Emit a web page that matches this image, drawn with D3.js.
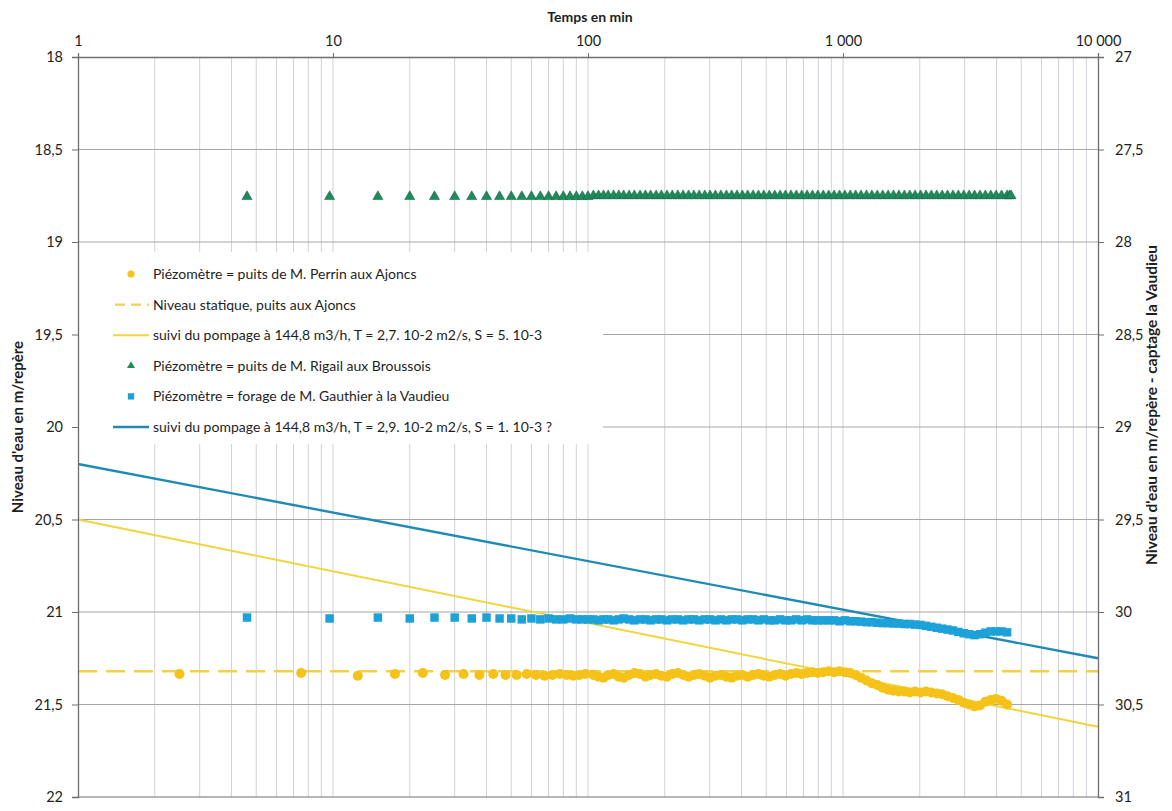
<!DOCTYPE html>
<html>
<head>
<meta charset="utf-8">
<script src="https://cdn.jsdelivr.net/npm/d3@7"></script>
<style>
  html, body { margin: 0; padding: 0; background: #ffffff; }
  svg { display: block; font-family: Lato, "Open Sans", sans-serif; }
</style>
</head>
<body>
<svg id="chart" width="1172" height="811"></svg>
<script>
// ---------- DATA ----------
const xTickValues = [1, 10, 100, 1000, 10000];
const yLeftTicks = [18, 18.5, 19, 19.5, 20, 20.5, 21, 21.5, 22];
const yRightTicks = [27, 27.5, 28, 28.5, 29, 29.5, 30, 30.5, 31];

// time stamps (min)
const tempsEarlyA = [4.6,9.7,15,20,25,30,35,40,45,50,55,60,65,70,75,80,85,90,95,100];
const tempsEarlyB = [2.5,7.5,12.5,17.5,22.5,27.5,32.5,37.5,42.5,47.5,52.5,57.5,62.5,67.5,72.5,77.5,82.5,87.5,92.5,97.5];
const tempsDense = [
  105,110,115,120,126,132,138,145,152,160,
  168,176,185,194,204,214,225,236,248,260,
  273,287,301,316,332,349,366,384,403,423,
  444,466,489,514,540,567,595,625,656,689,
  723,759,797,837,879,923,969,1017,1068,1121,
  1177,1236,1298,1363,1431,1503,1578,1657,1740,1827,
  1918,2014,2115,2220,2331,2448,2570,2699,2834,2975,
  3124,3280,3444,3617,3797,3987,4187,4400
];
const tempsRigailEnd = [4500, 4560];

// Piézomètre = puits de M. Perrin aux Ajoncs (left axis)
const perrinEarly = [21.335,21.33,21.345,21.335,21.33,21.34,21.335,21.34,21.335,21.34,21.34,21.335,21.34,21.345,21.34,21.335,21.34,21.345,21.34,21.335];
const perrinDense = [
  21.34,21.35,21.355,21.34,21.335,21.35,21.355,21.34,21.33,21.335,
  21.35,21.34,21.335,21.345,21.35,21.335,21.33,21.34,21.35,21.34,
  21.335,21.345,21.355,21.345,21.34,21.35,21.355,21.345,21.34,21.35,
  21.34,21.335,21.345,21.35,21.34,21.335,21.345,21.335,21.33,21.335,
  21.33,21.325,21.33,21.325,21.32,21.325,21.32,21.325,21.33,21.34,
  21.355,21.37,21.385,21.395,21.41,21.42,21.425,21.43,21.43,21.435,
  21.43,21.435,21.43,21.435,21.44,21.445,21.455,21.465,21.475,21.49,
  21.5,21.51,21.505,21.485,21.475,21.47,21.48,21.5
];

// Piézomètre = puits de M. Rigail aux Broussois (left axis)
const rigailEarly = [18.755,18.755,18.755,18.755,18.755,18.755,18.755,18.755,18.755,18.755,18.755,18.755,18.755,18.755,18.755,18.755,18.755,18.755,18.755,18.755];
const rigailDense = [
  18.75,18.75,18.75,18.75,18.75,18.75,18.75,18.75,18.75,18.75,
  18.75,18.75,18.75,18.75,18.75,18.75,18.75,18.75,18.75,18.75,
  18.75,18.75,18.75,18.75,18.75,18.75,18.75,18.75,18.75,18.75,
  18.75,18.75,18.75,18.75,18.75,18.75,18.75,18.75,18.75,18.75,
  18.75,18.75,18.75,18.75,18.75,18.75,18.75,18.75,18.75,18.75,
  18.75,18.75,18.75,18.75,18.75,18.75,18.75,18.75,18.75,18.75,
  18.75,18.75,18.75,18.75,18.75,18.75,18.75,18.75,18.75,18.75,
  18.75,18.75,18.75,18.75,18.75,18.75,18.75,18.75
];
const rigailEnd = [18.75, 18.75];

// Piézomètre = forage de M. Gauthier à la Vaudieu (right axis)
const gauthierEarly = [30.03,30.035,30.03,30.035,30.03,30.03,30.035,30.03,30.035,30.035,30.04,30.035,30.04,30.035,30.04,30.04,30.035,30.04,30.04,30.04];
const gauthierDense = [
  30.04,30.045,30.04,30.04,30.045,30.04,30.035,30.04,30.045,30.04,
  30.04,30.045,30.04,30.04,30.045,30.04,30.04,30.045,30.04,30.04,
  30.045,30.04,30.04,30.045,30.04,30.045,30.04,30.04,30.045,30.04,
  30.04,30.045,30.04,30.045,30.045,30.04,30.045,30.045,30.04,30.045,
  30.04,30.045,30.045,30.045,30.045,30.045,30.05,30.045,30.05,30.05,
  30.052,30.055,30.055,30.058,30.06,30.06,30.062,30.062,30.065,30.065,
  30.068,30.07,30.075,30.08,30.085,30.09,30.095,30.1,30.108,30.115,
  30.12,30.125,30.12,30.112,30.105,30.105,30.105,30.11
];

// Lines
const staticT = [1, 10000];
const staticY = [21.32, 21.32];            // Niveau statique (left axis)
const fitPerrinT = [1, 10000];
const fitPerrinY = [20.5, 21.62];          // suivi T=2,7.10-2 (left axis)
const fitGauthierT = [1, 10000];
const fitGauthierY = [29.2, 30.25];        // suivi T=2,9.10-2 (right axis)

const legendLabels = [
  "Piézomètre = puits de M. Perrin aux Ajoncs",
  "Niveau statique, puits aux Ajoncs",
  "suivi du pompage à 144,8 m3/h, T = 2,7. 10-2 m2/s, S = 5. 10-3",
  "Piézomètre = puits de M. Rigail aux Broussois",
  "Piézomètre = forage de M. Gauthier à la Vaudieu",
  "suivi du pompage à 144,8 m3/h, T = 2,9. 10-2 m2/s, S = 1. 10-3 ?"
];

// ---------- CHART ----------
const C = {
  yellowPt: "#f5c21a", yellowLine: "#f2d43c", yellowDash: "#f3d04a",
  green: "#1f8a5b", greenDark: "#16684a",
  bluePt: "#1ca2d8", blueLine: "#1f8ab6",
  grid: "#cfd2da", hgrid: "#a6a6a6", axis: "#6e6e6e", text: "#1e1e1e"
};

const svg = d3.select("#chart");
const L = 78, R = 1098, T = 57, B = 797;

const x = d3.scaleLog().domain([1, 10000]).range([L, R]);
const yL = d3.scaleLinear().domain([18, 22]).range([T, B]);
const yR = d3.scaleLinear().domain([27, 31]).range([T, B]);

const loc = d3.formatLocale({decimal: ",", thousands: "\u00a0", grouping: [3], currency: ["", ""]});
const fx = loc.format(",d");
const fy = loc.format("~g");

// vertical grid (log minor + major)
const gridX = [];
[1, 10, 100, 1000].forEach(d => { for (let k = 1; k <= 10; k++) gridX.push(d * k); });
const gridXU = Array.from(new Set(gridX)).filter(v => v > 1 && v < 10000);
svg.append("g").selectAll("line").data(gridXU).join("line")
  .attr("x1", d => x(d)).attr("x2", d => x(d))
  .attr("y1", T).attr("y2", B)
  .attr("stroke", C.grid).attr("stroke-width", 1);

// horizontal grid
svg.append("g").selectAll("line").data(yLeftTicks.filter(v => v > 18 && v < 22)).join("line")
  .attr("x1", L).attr("x2", R)
  .attr("y1", d => yL(d)).attr("y2", d => yL(d))
  .attr("stroke", C.hgrid).attr("stroke-width", 1);

// legend background
svg.append("rect").attr("x", L + 1).attr("y", 252).attr("width", 524).attr("height", 192).attr("fill", "#fff");

// static level
svg.append("path")
  .datum(staticT.map((t, i) => [t, staticY[i]]))
  .attr("d", d3.line().x(d => x(d[0])).y(d => yL(d[1])))
  .attr("fill", "none").attr("stroke", C.yellowDash).attr("stroke-width", 2.4)
  .attr("stroke-dasharray", "19,9");

// fit lines
svg.append("path")
  .datum(fitPerrinT.map((t, i) => [t, fitPerrinY[i]]))
  .attr("d", d3.line().x(d => x(d[0])).y(d => yL(d[1])))
  .attr("fill", "none").attr("stroke", C.yellowLine).attr("stroke-width", 2);
svg.append("path")
  .datum(fitGauthierT.map((t, i) => [t, fitGauthierY[i]]))
  .attr("d", d3.line().x(d => x(d[0])).y(d => yR(d[1])))
  .attr("fill", "none").attr("stroke", C.blueLine).attr("stroke-width", 2.4);

// points
const perrin = tempsEarlyB.map((t, i) => [t, perrinEarly[i]]).concat(tempsDense.map((t, i) => [t, perrinDense[i]]));
const rigail = tempsEarlyA.map((t, i) => [t, rigailEarly[i]])
  .concat(tempsDense.map((t, i) => [t, rigailDense[i]]))
  .concat(tempsRigailEnd.map((t, i) => [t, rigailEnd[i]]));
const gauthier = tempsEarlyA.map((t, i) => [t, gauthierEarly[i]]).concat(tempsDense.map((t, i) => [t, gauthierDense[i]]));

const triSym = d3.symbol().type(d3.symbolTriangle).size(44);
const sqSym = d3.symbol().type(d3.symbolSquare).size(72);

svg.append("g").selectAll("path").data(rigail).join("path")
  .attr("d", triSym)
  .attr("transform", d => `translate(${x(d[0])},${yL(d[1])})`)
  .attr("fill", C.green).attr("stroke", C.greenDark).attr("stroke-width", 0.6);

svg.append("g").selectAll("path").data(gauthier).join("path")
  .attr("d", sqSym)
  .attr("transform", d => `translate(${x(d[0])},${yR(d[1])})`)
  .attr("fill", C.bluePt);

svg.append("g").selectAll("circle").data(perrin).join("circle")
  .attr("cx", d => x(d[0])).attr("cy", d => yL(d[1])).attr("r", 5)
  .attr("fill", C.yellowPt);

// axes
const axTop = svg.append("g").attr("transform", `translate(0,${T})`)
  .call(d3.axisTop(x).tickValues(xTickValues).tickFormat(fx).tickSize(4).tickPadding(7));
const axLeft = svg.append("g").attr("transform", `translate(${L},0)`)
  .call(d3.axisLeft(yL).tickValues(yLeftTicks).tickFormat(fy).tickSize(6).tickPadding(9));
const axRight = svg.append("g").attr("transform", `translate(${R},0)`)
  .call(d3.axisRight(yR).tickValues(yRightTicks).tickFormat(fy).tickSize(6).tickPadding(11));
[axTop, axLeft, axRight].forEach(g => {
  g.select(".domain").attr("stroke", C.axis).attr("stroke-width", 1.3);
  g.selectAll(".tick line").attr("stroke", C.axis);
  g.selectAll(".tick text").attr("fill", C.text).attr("font-size", 14.5).attr("font-family", "Lato, sans-serif");
});
// bottom border
svg.append("line").attr("x1", L).attr("x2", R).attr("y1", B).attr("y2", B)
  .attr("stroke", C.axis).attr("stroke-width", 1.2);

// titles
svg.append("text").attr("x", 590).attr("y", 22).attr("text-anchor", "middle")
  .attr("font-weight", "bold").attr("font-size", 14).attr("fill", C.text).text("Temps en min");
svg.append("text").attr("transform", "translate(23,427) rotate(-90)").attr("text-anchor", "middle")
  .attr("font-weight", "bold").attr("font-size", 15).attr("fill", C.text).text("Niveau d'eau en m/repère");
svg.append("text").attr("transform", "translate(1157,405) rotate(-90)").attr("text-anchor", "middle")
  .attr("font-weight", "bold").attr("font-size", 15.5).attr("fill", C.text).text("Niveau d'eau en m/repère - captage la Vaudieu");

// legend
const legY = d3.scaleLinear().domain([0, 5]).range([274, 427]);
const lg = svg.append("g");
const lx0 = 113, lx1 = 149, lxc = 131, ltx = 153;
lg.append("circle").attr("cx", lxc).attr("cy", legY(0)).attr("r", 3.6).attr("fill", C.yellowPt);
lg.append("line").attr("x1", lx0 + 2).attr("x2", lx1).attr("y1", legY(1)).attr("y2", legY(1))
  .attr("stroke", C.yellowDash).attr("stroke-width", 2.4).attr("stroke-dasharray", "10,6");
lg.append("line").attr("x1", lx0).attr("x2", lx1).attr("y1", legY(2)).attr("y2", legY(2))
  .attr("stroke", C.yellowLine).attr("stroke-width", 2);
lg.append("path").attr("d", d3.symbol().type(d3.symbolTriangle).size(28))
  .attr("transform", `translate(${lxc},${legY(3)})`).attr("fill", C.green);
lg.append("path").attr("d", d3.symbol().type(d3.symbolSquare).size(40))
  .attr("transform", `translate(${lxc},${legY(4)})`).attr("fill", C.bluePt);
lg.append("line").attr("x1", lx0).attr("x2", lx1).attr("y1", legY(5)).attr("y2", legY(5))
  .attr("stroke", C.blueLine).attr("stroke-width", 2.4);
lg.selectAll("text").data(legendLabels).join("text")
  .attr("x", ltx).attr("y", (d, i) => legY(i)).attr("dy", "0.35em")
  .attr("font-size", 14).attr("fill", C.text).text(d => d);
</script>
</body>
</html>
